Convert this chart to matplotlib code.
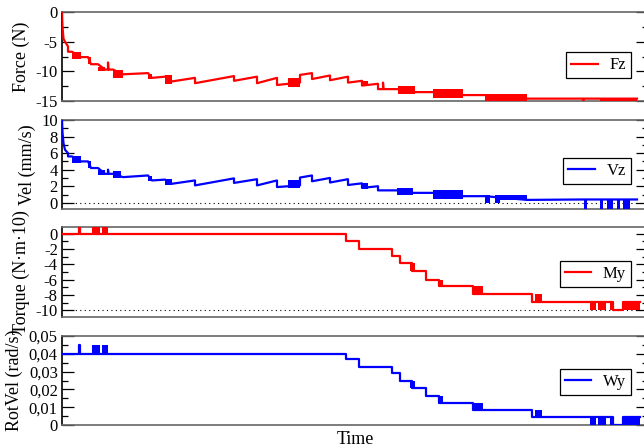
import matplotlib
matplotlib.use("Agg")
import matplotlib.pyplot as plt
from matplotlib.ticker import MultipleLocator

plt.rcParams["font.family"] = "serif"
plt.rcParams["font.serif"] = ["Liberation Serif", "DejaVu Serif"]
plt.rcParams["axes.unicode_minus"] = False

# time axis is in samples, no tick labels in the original
t_max = 586

# Force Fz (N)
fz_t = [0, 0.5, 1.5, 3, 6, 6, 10, 19, 26, 29, 36, 43, 46, 46, 46.5, 51, 61, 86, 90, 103, 110,
        133, 133, 172, 172, 195, 195, 215, 215, 238, 238, 250, 250, 268, 268, 286, 286, 300, 300,
        316, 316, 321, 321, 321.5, 336, 353, 371, 401, 423, 465, 521, 521, 522, 575]
fz_v = [0, -2.5, -4.5, -5.0, -5.8, -6.7, -6.7, -7.6, -7.6, -8.8, -8.8, -9.7, -9.7, -8.5, -9.7, -9.7,
        -10.5, -10.3, -11.1, -10.9, -11.7, -11.1, -12.0, -10.8, -11.6, -10.9, -12.0, -11.1, -12.3,
        -11.9, -10.6, -10.3, -11.3, -10.7, -11.5, -10.9, -11.9, -11.6, -12.4, -12.1, -13.0, -13.0,
        -11.9, -13.0, -13.0, -13.5, -13.5, -14.0, -14.0, -14.6, -14.6, -15.0, -14.6, -14.6]
# noisy stretches: (start, end, low, high)
fz_noise = [(10, 19, -7.9, -6.7), (26, 29, -8.8, -7.6), (36, 43, -9.9, -9.2), (51, 61, -11.1, -9.7),
            (86, 90, -11.3, -10.4), (103, 110, -12.1, -10.7), (226, 238, -12.6, -11.2),
            (300, 306, -12.5, -11.6), (336, 353, -13.9, -12.5), (371, 401, -14.5, -13.0),
            (423, 465, -15.0, -13.8), (538, 575, -15.0, -14.5)]

# Velocity Vz (mm/s)
vz_t = [0, 0.5, 1.5, 3, 6, 6, 10, 19, 26, 29, 36, 43, 46, 46, 46.5, 51, 61, 86, 90, 103, 110,
        133, 133, 172, 172, 195, 195, 215, 215, 238, 238, 250, 250, 268, 268, 286, 286, 300, 300,
        316, 316, 336, 351, 371, 401, 423, 465, 521, 575]
vz_v = [10, 8.5, 7.2, 6.4, 6.0, 5.6, 5.6, 5.0, 5.0, 4.2, 4.2, 3.5, 3.5, 4.0, 3.5, 3.5,
        3.1, 3.3, 2.7, 2.8, 2.3, 2.7, 2.1, 2.95, 2.4, 2.85, 2.1, 2.7, 1.9,
        2.1, 3.05, 3.3, 2.6, 3.0, 2.45, 2.85, 2.15, 2.35, 1.8, 2.0, 1.5,
        1.5, 1.2, 1.2, 0.8, 0.8, 0.35, 0.4, 0.4]
vz_noise = [(10, 19, 4.8, 5.6), (26, 29, 4.2, 5.0), (36, 43, 3.3, 4.0), (51, 59, 3.0, 3.9),
            (86, 90, 2.6, 3.2), (103, 110, 2.1, 2.9), (226, 238, 1.8, 2.7), (300, 306, 1.7, 2.4),
            (335, 351, 1.0, 1.8), (371, 401, 0.5, 1.6), (423, 428, 0.0, 1.0), (433, 438, 0.0, 1.0),
            (436, 465, 0.3, 1.0), (522, 525, -0.8, 0.4), (538, 541, -0.8, 0.4), (545, 551, -0.8, 0.4),
            (555, 558, -0.8, 0.4), (561, 568, -0.8, 0.4)]

# Torque My (N*m*10)
my_t = [0, 17, 17, 17.5, 17.5, 284, 284, 297, 297, 330, 330, 338, 338, 350, 350, 364, 364, 377,
        377, 411, 411, 470, 470, 551, 551, 561, 561, 578]
my_v = [0, 0, 1.2, 1.2, 0, 0, -1.0, -1.0, -2.0, -2.0, -2.95, -2.95, -3.8, -3.8, -4.9, -4.9, -6.0,
        -6.0, -6.8, -6.8, -7.9, -7.9, -8.9, -8.9, -10.0, -10.0, -8.9, -8.9]
my_noise = [(30, 38, 0, 1.2), (40, 46, 0, 1.2), (348, 353, -4.9, -3.8), (377, 381, -6.8, -6.0),
            (411, 421, -7.9, -6.8), (473, 480, -8.9, -7.9), (528, 534, -10.0, -8.9),
            (536, 544, -10.0, -8.9), (548, 551, -10.0, -8.9), (561, 578, -10.0, -8.9)]

# Rotational velocity Wy (rad/s)
wy_t = my_t
wy_v = [0.04, 0.04, 0.045, 0.045, 0.04, 0.04, 0.0369, 0.0369, 0.0324, 0.0324, 0.029, 0.029,
        0.0249, 0.0249, 0.0206, 0.0206, 0.0163, 0.0163, 0.0122, 0.0122, 0.0084, 0.0084,
        0.0043, 0.0043, 0.0, 0.0, 0.0043, 0.0043]
wy_noise = [(30, 38, 0.04, 0.045), (40, 46, 0.04, 0.045), (348, 353, 0.0206, 0.0249),
            (377, 381, 0.0122, 0.0163), (411, 421, 0.0084, 0.0122), (473, 480, 0.0043, 0.0084),
            (528, 534, 0, 0.0043), (536, 544, 0, 0.0043), (548, 551, 0, 0.0043), (561, 578, 0, 0.0043)]

panels = [
    dict(t=fz_t, v=fz_v, noise=fz_noise, color="#ff0000", name="Fz", ylabel="Force (N)",
         ylim=(-15, 0), ticks=[0, -5, -10, -15], labels=["0", "-5", "-10", "-15"], minor=2.5,
         ref=None, bottom=447 - 101, top=447 - 12, leg_y=0.40),
    dict(t=vz_t, v=vz_v, noise=vz_noise, color="#0000ff", name="Vz", ylabel="Vel (mm/s)",
         ylim=(-0.75, 10), ticks=[0, 2, 4, 6, 8, 10], labels=["0", "2", "4", "6", "8", "10"],
         minor=1, ref=0, bottom=447 - 209, top=447 - 120, leg_y=0.43),
    dict(t=my_t, v=my_v, noise=my_noise, color="#ff0000", name="My", ylabel="Torque (N·m·10)",
         ylim=(-10.9, 0.9), ticks=[0, -2, -4, -6, -8, -10],
         labels=["0", "-2", "-4", "-6", "-8", "-10"], minor=1, ref=-10,
         bottom=447 - 317, top=447 - 227, leg_y=0.48),
    dict(t=wy_t, v=wy_v, noise=wy_noise, color="#0000ff", name="Wy", ylabel="RotVel (rad/s)",
         ylim=(0, 0.05), ticks=[0, 0.01, 0.02, 0.03, 0.04, 0.05],
         labels=["0", "0,01", "0,02", "0,03", "0,04", "0,05"], minor=0.005, ref=None,
         bottom=447 - 425, top=447 - 336, leg_y=0.48),
]

fig = plt.figure(figsize=(6.44, 4.47), dpi=100)

for p in panels:
    ax = fig.add_axes([62 / 644, p["bottom"] / 447, 586 / 644, (p["top"] - p["bottom"]) / 447])
    ax.plot(p["t"], p["v"], color=p["color"], lw=1.6, label=p["name"], zorder=3)
    for t0, t1, lo, hi in p["noise"]:
        ax.fill_between([t0, t1], lo, hi, color=p["color"], lw=0, zorder=3)
    if p["ref"] is not None:
        ax.axhline(p["ref"], color="black", lw=0.8, ls=(0, (1, 3)), zorder=1)
    ax.set_xlim(0, t_max)
    ax.set_ylim(*p["ylim"])
    ax.set_xticks([])
    ax.set_yticks(p["ticks"])
    ax.set_yticklabels(p["labels"])
    ax.yaxis.set_minor_locator(MultipleLocator(p["minor"]))
    ax.tick_params(axis="y", which="both", direction="in", left=True, right=True,
                   labelsize=12, pad=3, colors="black")
    ax.tick_params(axis="y", which="major", length=8.5, width=0.9)
    ax.tick_params(axis="y", which="minor", length=4.3, width=0.9)
    for s in ["top", "bottom", "right"]:
        ax.spines[s].set_color("#666666")
    ax.spines["left"].set_color("black")
    for s in ax.spines.values():
        s.set_linewidth(1.2)
    ax.set_ylabel(p["ylabel"], fontsize=13, labelpad=4)
    leg = ax.legend(loc="center right", bbox_to_anchor=(0.971, p["leg_y"]), fontsize=12,
                    frameon=True, fancybox=False, framealpha=1, edgecolor="black",
                    handlelength=1.6, borderpad=0.3, handletextpad=0.7, borderaxespad=0)
    leg.get_frame().set_linewidth(0.9)
    last = ax

last.set_xlabel("Time", fontsize=13, labelpad=4)

fig.savefig("out.png", dpi=100)
